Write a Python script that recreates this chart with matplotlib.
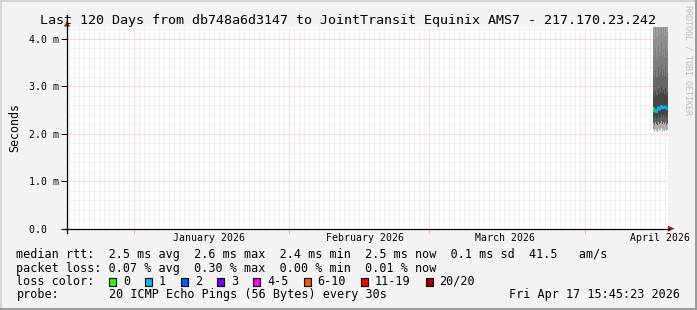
import matplotlib
matplotlib.use("Agg")
import matplotlib.pyplot as plt
import matplotlib.dates as mdates
import matplotlib.transforms as mtransforms
from matplotlib.ticker import MultipleLocator, FixedLocator, NullFormatter
from matplotlib.patches import Rectangle, Polygon
from matplotlib.lines import Line2D
from datetime import datetime, timedelta
import numpy as np
import pandas as pd

# ---- data -------------------------------------------------------------
title = "Last 120 Days from db748a6d3147 to JointTransit Equinix AMS7 - 217.170.23.242"
end_time = datetime(2026, 4, 17, 15, 45, 23)
span_days = 120

month_starts = [datetime(2026, 1, 1), datetime(2026, 2, 1), datetime(2026, 3, 1), datetime(2026, 4, 1)]
month_labels = ["January 2026", "February 2026", "March 2026", "April 2026"]

y_ticks = [0, 1, 2, 3, 4]
y_tick_labels = ["0.0  ", "1.0 m", "2.0 m", "3.0 m", "4.0 m"]

# one value per rrd column (ms), only the last three days carry data
median_ms = [2.56, 2.45, 2.52, 2.44, 2.50, 2.57, 2.49, 2.55, 2.60, 2.52, 2.58, 2.53, 2.59, 2.51, 2.55]
loss_count = [0, 1, 1, 1, 1, 1, 1, 1, 1, 1, 1, 1, 1, 1, 1]
smoke_min = [2.08, 2.04, 2.10, 2.06, 2.03, 2.09, 2.05, 2.07, 2.12, 2.04, 2.08, 2.06, 2.10, 2.05, 2.08]
smoke_p10 = [2.22, 2.18, 2.25, 2.20, 2.19, 2.24, 2.21, 2.23, 2.26, 2.20, 2.24, 2.21, 2.25, 2.19, 2.22]
smoke_p25 = [2.36, 2.31, 2.37, 2.30, 2.34, 2.40, 2.33, 2.38, 2.42, 2.35, 2.40, 2.36, 2.41, 2.34, 2.37]
smoke_p75 = [2.85, 2.78, 2.90, 2.82, 2.80, 2.95, 2.84, 2.88, 2.98, 2.86, 2.92, 2.83, 2.96, 2.81, 2.87]
smoke_p85 = [3.25, 3.15, 3.35, 3.20, 3.18, 3.40, 3.22, 3.30, 3.45, 3.24, 3.36, 3.21, 3.42, 3.19, 3.28]
smoke_p90 = [3.65, 3.55, 3.80, 3.60, 3.58, 3.85, 3.62, 3.72, 3.90, 3.66, 3.78, 3.61, 3.88, 3.59, 3.70]
smoke_p95 = [4.10, 3.98, 4.30, 4.05, 4.02, 4.35, 4.08, 4.20, 4.40, 4.12, 4.25, 4.06, 4.38, 4.03, 4.15]
smoke_max = [6.8, 6.2, 7.5, 6.5, 6.4, 7.9, 6.6, 7.0, 8.1, 6.7, 7.2, 6.3, 7.7, 6.4, 6.9]

rtt_values = [2.5, 2.6, 2.4, 2.5, 0.1]
am_per_s = 41.5
loss_pct = [0.07, 0.30, 0.00, 0.01]

loss_labels = ["0", "1", "2", "3", "4-5", "6-10", "11-19", "20/20"]
loss_upper = [0, 1, 2, 3, 5, 10, 19, 20]
loss_colors = ["#26ff00", "#00b8ff", "#0059ff", "#7e00ff", "#ff00ff", "#ff5500", "#ff0000", "#a00000"]

probe_text = "20 ICMP Echo Pings (56 Bytes) every 30s"
stamp_text = "Fri Apr 17 15:45:23 2026"

# ---- figure -----------------------------------------------------------
W, H = 697, 310
def fx(x):
    return x / W
def fy(y):
    return 1 - y / H

mono = "DejaVu Sans Mono"
fig = plt.figure(figsize=(W / 100, H / 100), dpi=100, facecolor="#f3f3f3")

# 3d frame
fig.add_artist(Rectangle((0, fy(2)), 1, fy(0) - fy(2), transform=fig.transFigure, color="#d4d4d4", lw=0))
fig.add_artist(Rectangle((0, 0), fx(2), 1, transform=fig.transFigure, color="#d4d4d4", lw=0))
fig.add_artist(Rectangle((0, 0), 1, fy(308), transform=fig.transFigure, color="#9c9c9c", lw=0))
fig.add_artist(Rectangle((fx(695), 0), fx(2), 1, transform=fig.transFigure, color="#9c9c9c", lw=0))

x0, x1, ybot, ytop = 67, 668, 228.7, 27
ax = fig.add_axes([fx(x0), fy(ybot), (x1 - x0) / W, (ybot - ytop) / H])
ax.set_facecolor("white")
for s in ax.spines.values():
    s.set_visible(False)

start_time = end_time - timedelta(days=span_days)
ax.set_xlim(start_time, end_time)
ax.set_ylim(0, (ybot - ytop) / 47.5)

# grid
ax.xaxis.set_major_locator(FixedLocator(mdates.date2num(month_starts)))
ax.xaxis.set_minor_locator(mdates.DayLocator())
ax.xaxis.set_major_formatter(NullFormatter())
ax.yaxis.set_major_locator(FixedLocator(y_ticks))
ax.yaxis.set_minor_locator(MultipleLocator(0.2))
ax.set_yticklabels(y_tick_labels, family=mono, fontsize=7.15)
dots = (0, (1, 1))
ax.grid(which="minor", color="#e2e2e2", lw=0.72, ls=dots)
ax.grid(which="major", color="#ffb0b0", lw=0.72, ls=dots)
ax.set_axisbelow(True)
ax.tick_params(axis="x", which="major", length=3, width=0.72, color="#ff9c9c", direction="out")
ax.tick_params(axis="y", which="major", length=4, width=0.72, color="black", direction="out", pad=2)
ax.tick_params(which="minor", length=0)

# smoke
n = len(median_ms)
edges = pd.date_range(end=end_time, periods=n + 1, freq="288min")
centers = edges[:-1] + (edges[1] - edges[0]) / 2
bands = [smoke_min, smoke_p10, smoke_p25, smoke_p75, smoke_p85, smoke_p90, smoke_p95, smoke_max]
shades = ["#acacac", "#5e5e5e", "#454545", "#666666", "#7c7c7c", "#8e8e8e", "#a2a2a2"]
for lo, hi, c in zip(bands[:-1], bands[1:], shades):
    ax.fill_between(edges, np.r_[lo, lo[-1]], np.r_[hi, hi[-1]], step="post",
                    facecolor=c, edgecolor="none", lw=0, antialiased=False)

# median line coloured by loss
for i in range(n - 1):
    k = next(j for j, u in enumerate(loss_upper) if loss_count[i] <= u)
    ax.plot(centers[i:i + 2], median_ms[i:i + 2], color=loss_colors[k], lw=1.3, solid_capstyle="butt")

# month labels (mid month)
label_tr = mtransforms.blended_transform_factory(ax.transData, fig.transFigure)
for d, lab in zip(month_starts, month_labels):
    ax.text(mdates.date2num(d) + 15.1, fy(241), lab, transform=label_tr,
            ha="center", va="baseline", family=mono, fontsize=7.15)

# axes lines and arrows
arrow_c = "#9b1b1b"
fig.add_artist(Line2D([fx(63), fx(669)], [fy(ybot), fy(ybot)], color="black", lw=0.9))
fig.add_artist(Line2D([fx(x0), fx(x0)], [fy(232.5), fy(25)], color="black", lw=0.9))
fig.add_artist(Polygon([(fx(668), fy(ybot - 3)), (fx(674.5), fy(ybot)), (fx(668), fy(ybot + 3))],
                       closed=True, transform=fig.transFigure, color=arrow_c, lw=0))
fig.add_artist(Polygon([(fx(x0 - 3), fy(26.5)), (fx(x0), fy(20.5)), (fx(x0 + 3), fy(26.5))],
                       closed=True, transform=fig.transFigure, color=arrow_c, lw=0))

# texts
fig.text(0.5, fy(24), title, ha="center", va="baseline", family=mono, fontsize=9.6)
fig.text(fx(15), fy(128), "Seconds", rotation=90, ha="center", va="center", family=mono, fontsize=8.4)
fig.text(fx(688), fy(5), "RRDTOOL / TOBI OETIKER", rotation=270, ha="center", va="top",
         family=mono, fontsize=6, color="#bdbdbd")

rtt_line = "median rtt:  %.1f ms avg  %.1f ms max  %.1f ms min  %.1f ms now  %.1f ms sd  %.1f   am/s" % (
    *rtt_values, am_per_s)
loss_line = "packet loss: %.2f %% avg  %.2f %% max  %.2f %% min  %.2f %% now" % tuple(loss_pct)
lx = 16.5
fs = 8.5
fig.text(fx(lx), fy(258.3), rtt_line, va="baseline", family=mono, fontsize=fs)
fig.text(fx(lx), fy(271.7), loss_line, va="baseline", family=mono, fontsize=fs)
fig.text(fx(lx), fy(285), "loss color:", va="baseline", family=mono, fontsize=fs)
fig.text(fx(lx), fy(298.3), "probe:", va="baseline", family=mono, fontsize=fs)
fig.text(fx(lx + 13 * 7.1), fy(298.3), probe_text, va="baseline", family=mono, fontsize=fs)
fig.text(fx(680), fy(298.3), stamp_text, ha="right", va="baseline", family=mono, fontsize=fs)

sx = 109
for lab, col in zip(loss_labels, loss_colors):
    fig.add_artist(Rectangle((fx(sx), fy(285.7)), 7 / W, 7.3 / H, transform=fig.transFigure,
                             facecolor=col, edgecolor="black", lw=0.8))
    fig.text(fx(sx + 14), fy(285), lab, va="baseline", family=mono, fontsize=fs)
    sx = sx + 14 + len(lab) * 7.1 + 15

fig.savefig("out.png", dpi=100, facecolor=fig.get_facecolor())
